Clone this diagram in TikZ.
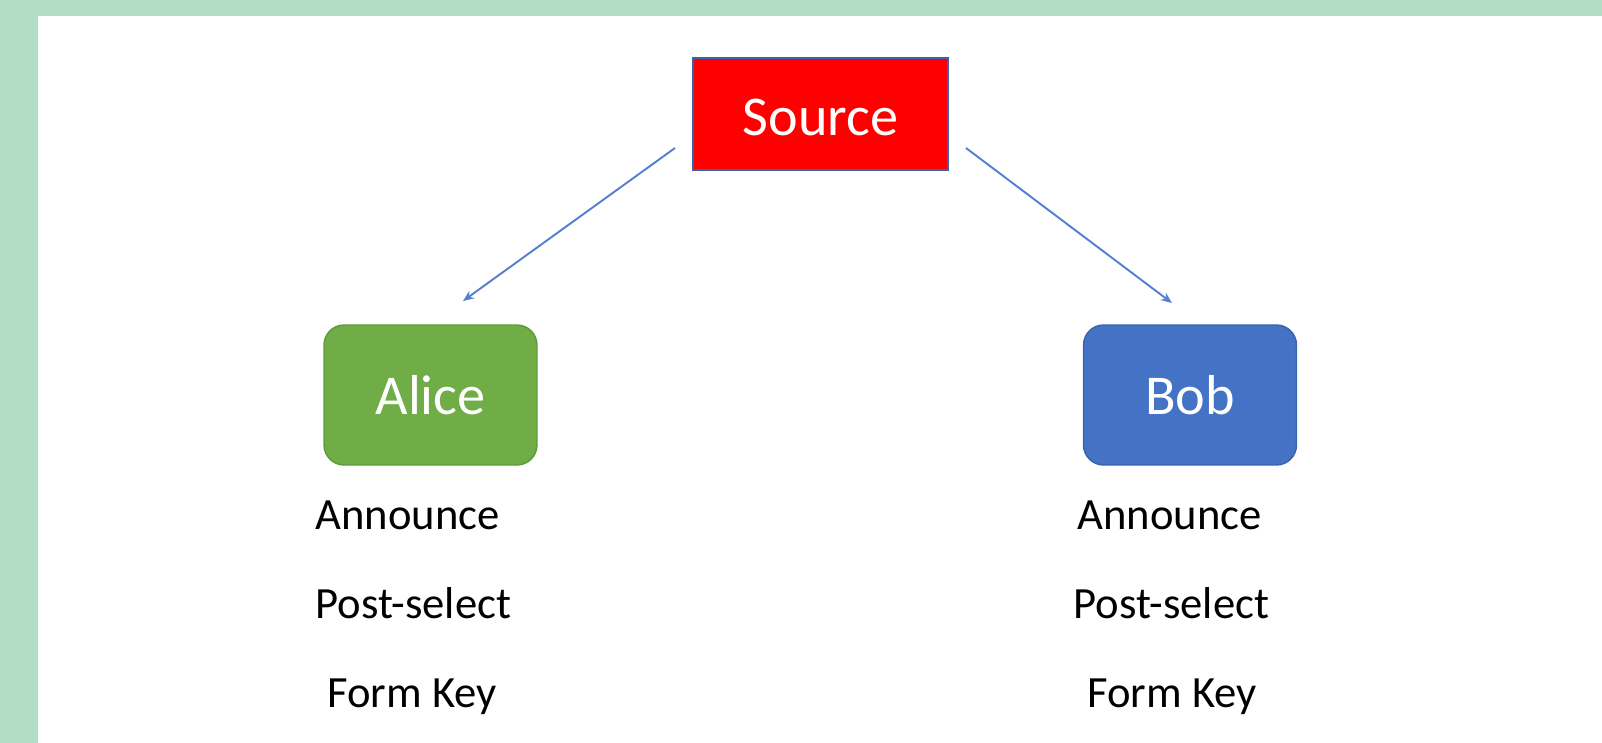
\documentclass[tikz,border=0pt]{standalone}
\usepackage{fontspec}
\setmainfont{Carlito}
\usetikzlibrary{arrows.meta}
\definecolor{bggreen}{HTML}{B1DEC4}
\definecolor{srcred}{HTML}{FF0000}
\definecolor{alicegreen}{HTML}{70AD47}
\definecolor{alicerim}{HTML}{5E9A3A}
\definecolor{bobblue}{HTML}{4472C4}
\definecolor{bobrim}{HTML}{3A62AE}
\definecolor{linkblue}{HTML}{5580D0}

\begin{document}
\begin{tikzpicture}[x=0.02cm,y=-0.02cm,
  party/.style={draw=#1,line width=0.8pt,rounded corners=0.4cm,minimum width=4.26cm,
    minimum height=2.8cm,text=white,font=\fontsize{32}{36}\selectfont},
  step text/.style={anchor=base west,inner sep=0pt,font=\fontsize{25.4}{30}\selectfont},
  link/.style={linkblue,line width=1.1pt,-{Stealth[length=2.2mm,width=1.8mm]}}]
\useasboundingbox (0,0) rectangle (1602,743);
\fill[bggreen] (0,0) rectangle (1602,743);
\fill[white] (38,16) rectangle (1602,743);

\node[fill=srcred,draw=bobrim,line width=0.8pt,minimum width=5.1cm,minimum height=2.24cm,
  text height=25pt,text depth=0pt,text=white,font=\fontsize{32}{36}\selectfont] (src) at (820.5,114) {Source};
\node[party=alicerim,fill=alicegreen] (alice) at (430.5,395) {Alice};
\node[party=bobrim,fill=bobblue] (bob) at (1190,395) {Bob};

% arrows from the source
\coordinate (aStart) at (675,148);
\coordinate (aEnd) at (463,301);
\coordinate (bStart) at (966,148);
\coordinate (bEnd) at (1172,303);
\draw[link] (aStart) -- (aEnd);
\draw[link] (bStart) -- (bEnd);

% what each side does
\node[step text] (aAnn) at (315,529) {Announce};
\node[step text] (aPost) at (315,618) {Post-select};
\node[step text] (aKey) at (327,707) {Form Key};
\node[step text] (bAnn) at (1077,529) {Announce};
\node[step text] (bPost) at (1073,618) {Post-select};
\node[step text] (bKey) at (1087,707) {Form Key};

\end{tikzpicture}
\end{document}
